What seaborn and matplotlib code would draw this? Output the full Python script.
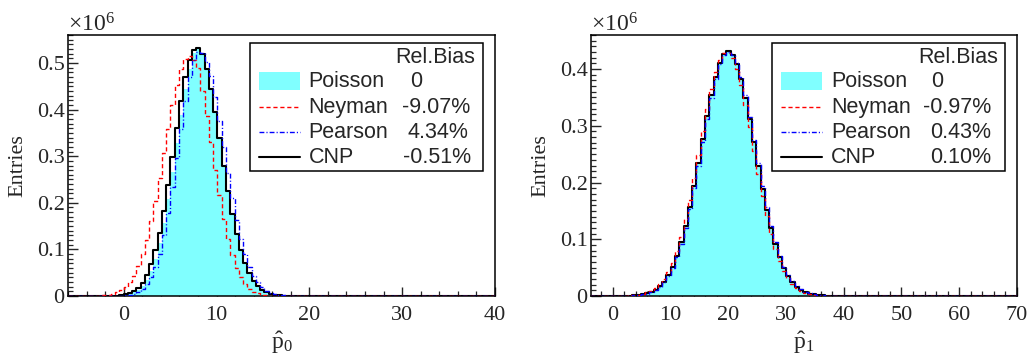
import numpy as np
import pandas as pd
import matplotlib
matplotlib.use("Agg")
import matplotlib.pyplot as plt
import seaborn as sns
from matplotlib.lines import Line2D
from matplotlib.patches import Rectangle
from matplotlib.ticker import MultipleLocator, FuncFormatter

# ---------------- data (entries in units of 10^6, 100 bins per panel) ----------------
n_bins = 100
left_range = (-6.0, 40.0)
right_range = (-4.0, 70.0)

# left panel: p0-hat
left_poisson_first = 10
left_poisson = [0.0002, 0.0005, 0.0012, 0.0024, 0.0043, 0.0077, 0.0131, 0.0217, 0.0347, 0.0538,
                0.0798, 0.1135, 0.1565, 0.208, 0.266, 0.328, 0.389, 0.444, 0.488, 0.522,
                0.533, 0.519, 0.486, 0.444, 0.394, 0.338, 0.280, 0.226, 0.177, 0.134,
                0.098, 0.070, 0.0484, 0.032, 0.0207, 0.0131, 0.008, 0.0047, 0.0027, 0.0015,
                0.0008, 0.0004, 0.0002]
left_neyman_first = 6
left_neyman = [0.0005, 0.001, 0.0018, 0.003,
               0.0047, 0.0079, 0.0127, 0.020, 0.030, 0.042, 0.064, 0.090, 0.121, 0.160,
               0.204, 0.254, 0.306, 0.359, 0.409, 0.453, 0.486, 0.508, 0.515, 0.506,
               0.490, 0.440, 0.387, 0.330, 0.271, 0.216, 0.166, 0.123, 0.088, 0.060,
               0.040, 0.026, 0.016, 0.0096, 0.0055, 0.003, 0.0016, 0.0008, 0.0004, 0.0002,
               0.0001]
left_pearson_first = 13
left_pearson = [0.0013, 0.0025, 0.0047, 0.0085, 0.0148, 0.0247, 0.040, 0.0615, 0.091, 0.130,
                0.178, 0.234, 0.296, 0.359, 0.419, 0.469, 0.506, 0.523, 0.522, 0.503,
                0.471, 0.427, 0.375, 0.320, 0.264, 0.211, 0.163, 0.123, 0.090, 0.063,
                0.0435, 0.029, 0.0185, 0.0113, 0.0069, 0.004, 0.0023, 0.0013, 0.0006, 0.0003]
left_cnp_first = 10
left_cnp = [0.0004, 0.0008, 0.0018, 0.0034, 0.006, 0.0106, 0.0177, 0.0286, 0.0447, 0.0676,
            0.098, 0.136, 0.183, 0.238, 0.298, 0.360, 0.419, 0.469, 0.507, 0.528,
            0.532, 0.519, 0.487, 0.444, 0.394, 0.338, 0.280, 0.226, 0.177, 0.134,
            0.098, 0.070, 0.0484, 0.032, 0.0207, 0.0131, 0.008, 0.0047, 0.0027, 0.0015,
            0.0008, 0.0004, 0.0002]

# right panel: p1-hat
right_poisson_first = 10
right_poisson = [0.001, 0.0017, 0.0028, 0.0046, 0.0074, 0.0115, 0.0173, 0.0256, 0.0369, 0.0519,
                 0.071, 0.0949, 0.1236, 0.1569, 0.1944, 0.2346, 0.2762, 0.3167, 0.3543, 0.3865,
                 0.4111, 0.4263, 0.431, 0.4248, 0.4083, 0.3826, 0.3495, 0.3114, 0.2704, 0.229,
                 0.189, 0.1521, 0.1195, 0.0914, 0.0682, 0.0496, 0.0351, 0.0243, 0.0164, 0.0108,
                 0.0069, 0.0043, 0.0027, 0.0016, 0.0009, 0.0005, 0.0003]
right_neyman_first = 9
right_neyman = [0.001, 0.0015, 0.0025, 0.004, 0.0062, 0.0095, 0.014, 0.0205, 0.030, 0.0425,
                0.0584, 0.0791, 0.1047, 0.1349, 0.1697, 0.2081, 0.2487, 0.2900, 0.3295, 0.3652,
                0.3949, 0.4163, 0.4279, 0.4289, 0.4192, 0.3996, 0.3713, 0.3365, 0.2975, 0.2563,
                0.2154, 0.1765, 0.1410, 0.1099, 0.0835, 0.0619, 0.0447, 0.0314, 0.0216, 0.0145,
                0.0095, 0.006, 0.0038, 0.0023, 0.0014, 0.0008, 0.0004, 0.0002]
right_pearson_first = 10
right_pearson = [0.0009, 0.0016, 0.0027, 0.0044, 0.0071, 0.011, 0.0166, 0.0246, 0.0355, 0.0501,
                 0.0687, 0.092, 0.1202, 0.1529, 0.1899, 0.2298, 0.2712, 0.3118, 0.3498, 0.3826,
                 0.4081, 0.4245, 0.4304, 0.4255, 0.4103, 0.3857, 0.3535, 0.316, 0.2753, 0.234,
                 0.1938, 0.1565, 0.1234, 0.0948, 0.071, 0.0518, 0.0368, 0.0256, 0.0173, 0.0115,
                 0.0074, 0.0046, 0.0029, 0.0017, 0.001, 0.0005, 0.0003]
right_cnp_first = 10
right_cnp = [0.001, 0.0017, 0.0028, 0.0046, 0.0074, 0.0114, 0.0172, 0.0255, 0.0368, 0.0518,
             0.0709, 0.0948, 0.1235, 0.1568, 0.1943, 0.2346, 0.2763, 0.3168, 0.3545, 0.3868,
             0.4113, 0.4266, 0.4312, 0.425, 0.4086, 0.3829, 0.3498, 0.3117, 0.2707, 0.2293,
             0.1893, 0.1524, 0.1197, 0.0916, 0.0684, 0.0497, 0.0352, 0.0244, 0.0165, 0.0109,
             0.007, 0.0044, 0.0027, 0.0016, 0.0009, 0.0005, 0.0003]

methods = ["Poisson", "Neyman", "Pearson", "CNP"]
left_bias = ["0", "-9.07%", "4.34%", "-0.51%"]
right_bias = ["0", "-0.97%", "0.43%", "0.10%"]

# ---------------- style ----------------
sns.set_style("ticks")
plt.rcParams.update({
    "font.family": ["Liberation Serif", "DejaVu Serif"],
    "mathtext.fontset": "custom",
    "mathtext.rm": "Liberation Serif",
    "mathtext.it": "Liberation Serif:italic",
    "axes.linewidth": 1.1,
    "axes.edgecolor": "black",
})
CYAN = "#80FFFF"
SANS = ["Liberation Sans", "DejaVu Sans"]
LEG_FS = 15.5


def full(first, vals):
    arr = np.zeros(n_bins)
    arr[first:first + len(vals)] = vals
    return arr


fig = plt.figure(figsize=(10.3, 3.56), dpi=100)
ax1 = fig.add_axes([68 / 1030, 60 / 356, 427 / 1030, 261 / 356])
ax2 = fig.add_axes([591 / 1030, 60 / 356, 426 / 1030, 261 / 356])

panels = [
    (ax1, left_range, (left_poisson_first, left_poisson), (left_neyman_first, left_neyman),
     (left_pearson_first, left_pearson), (left_cnp_first, left_cnp), left_bias,
     0.56, "0", (-6, 40), 0.094,
     [0.801, 0.782, 0.794, 0.785], 0.767),
    (ax2, right_range, (right_poisson_first, right_poisson), (right_neyman_first, right_neyman),
     (right_pearson_first, right_pearson), (right_cnp_first, right_cnp), right_bias,
     0.46, "1", (-3.75, 70), 0.096,
     [0.799, 0.7793, 0.7958, 0.7958], 0.768),
]

for (ax, rng, pois, ney, pear, cnp, bias, ymax, sub, xlim, ylab_off,
     val_x, title_x) in panels:
    width = (rng[1] - rng[0]) / n_bins
    centers = rng[0] + width * (np.arange(n_bins) + 0.5)
    df = pd.DataFrame({"x": centers, "Poisson": full(*pois), "Neyman": full(*ney),
                       "Pearson": full(*pear), "CNP": full(*cnp)})
    common = dict(data=df, x="x", bins=n_bins, binrange=rng, element="step", ax=ax)
    sns.histplot(weights="Poisson", fill=True, color=CYAN, alpha=1.0, linewidth=0,
                 zorder=1, **common)
    sns.histplot(weights="CNP", fill=False, color="black", linewidth=1.5, zorder=3, **common)
    sns.histplot(weights="Neyman", fill=False, color="#FF0000", linewidth=1.0,
                 linestyle=(0, (3, 2)), zorder=4, **common)
    sns.histplot(weights="Pearson", fill=False, color="#0000FF", linewidth=1.0,
                 linestyle=(0, (3.5, 1.5, 0.8, 1.5)), zorder=5, **common)

    ax.set_xlim(*xlim)
    ax.set_ylim(0, ymax)
    ax.xaxis.set_major_locator(MultipleLocator(10))
    ax.xaxis.set_minor_locator(MultipleLocator(2))
    ax.yaxis.set_major_locator(MultipleLocator(0.1))
    ax.yaxis.set_minor_locator(MultipleLocator(0.01))
    ax.yaxis.set_major_formatter(FuncFormatter(lambda v, p: "0" if abs(v) < 1e-9 else f"{v:.1f}"))
    ax.xaxis.set_major_formatter(FuncFormatter(lambda v, p: f"{v:.0f}"))
    ax.tick_params(axis="y", which="major", direction="in", length=7.2, width=1.0, labelsize=16, pad=2.4)
    ax.tick_params(axis="y", which="minor", direction="in", length=3.6, width=0.9)
    ax.tick_params(axis="x", which="major", direction="in", length=6.5, width=1.0, labelsize=16, pad=7)
    ax.tick_params(axis="x", which="minor", direction="in", length=3.5, width=0.9)
    ax.tick_params(top=False, right=False)
    for s in ax.spines.values():
        s.set_visible(True)
        s.set_linewidth(1.1)

    ax.set_ylabel("Entries", fontsize=16)
    ax.yaxis.set_label_coords(-ylab_off, 0.5)
    ax.set_xlabel(r"$\mathrm{\hat{p}}_{\mathrm{" + sub + "}}$", fontsize=17)
    ax.xaxis.set_label_coords(0.5, -0.128)
    ax.xaxis.label.set_va("top")

    ax.text(0.0, 1.012, r"$\mathrm{\times 10^{6}}$", transform=ax.transAxes,
            fontsize=17, ha="left", va="baseline")

    # legend box (ROOT style)
    ax.add_patch(Rectangle((0.426, 0.480), 0.545, 0.488, transform=ax.transAxes,
                           facecolor="white", edgecolor="black", linewidth=1.1, zorder=10))
    ax.text(title_x, 0.894, "Rel.Bias", transform=ax.transAxes, fontsize=LEG_FS,
            family=SANS, ha="left", va="baseline", zorder=11)
    baselines = [0.800, 0.702, 0.607, 0.511]
    sym_y = [0.8225, 0.723, 0.628, 0.534]
    ax.add_patch(Rectangle((0.447, 0.788), 0.096, 0.069, transform=ax.transAxes,
                           facecolor=CYAN, edgecolor="none", zorder=11))
    ax.add_line(Line2D([0.447, 0.543], [sym_y[1]] * 2, transform=ax.transAxes,
                       color="#FF0000", linewidth=1.0, linestyle=(0, (3, 2)), zorder=11))
    ax.add_line(Line2D([0.447, 0.543], [sym_y[2]] * 2, transform=ax.transAxes,
                       color="#0000FF", linewidth=1.0, linestyle=(0, (3.5, 1.5, 0.8, 1.5)), zorder=11))
    ax.add_line(Line2D([0.447, 0.543], [sym_y[3]] * 2, transform=ax.transAxes,
                       color="black", linewidth=1.5, zorder=11))
    for name, b, yb, vx in zip(methods, bias, baselines, val_x):
        ax.text(0.563, yb, name, transform=ax.transAxes, fontsize=LEG_FS, family=SANS,
                ha="left", va="baseline", zorder=11)
        ax.text(vx, yb, b, transform=ax.transAxes, fontsize=LEG_FS, family=SANS,
                ha="left", va="baseline", zorder=11)

fig.savefig("out.png", dpi=100)
